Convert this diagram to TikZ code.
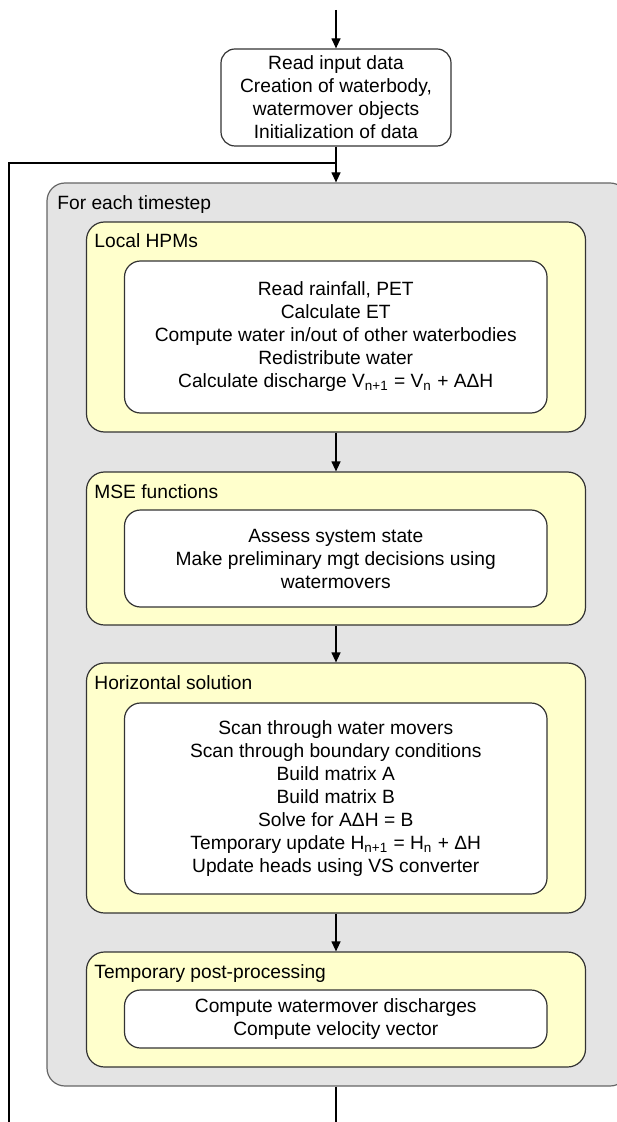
\documentclass[tikz,border=0pt]{standalone}
\usepackage{fontspec}
\setmainfont{Liberation Sans}
\usetikzlibrary{arrows.meta}
\definecolor{loopfill}{HTML}{E4E4E4}
\definecolor{stagefill}{HTML}{FFFFCC}
\definecolor{edge}{HTML}{333333}
\begin{document}
\begin{tikzpicture}[x=0.5pt,y=-0.5pt,
  every node/.style={font=\fontsize{9.6}{11.5}\selectfont},
  outer/.style={draw=black!60, fill=loopfill, rounded corners=9pt, line width=0.6pt, inner sep=0pt},
  stage/.style={draw=edge, fill=stagefill, rounded corners=9pt, line width=0.6pt, inner sep=0pt, minimum width=249.5pt},
  task/.style={draw=edge, fill=white, rounded corners=8pt, line width=0.6pt, inner sep=0pt, align=center, minimum width=211.25pt},
  caption/.style={anchor=base west, inner sep=0pt},
  flow/.style={line width=0.6pt, -{Triangle[length=5pt,width=4.5pt]}},
  link/.style={line width=0.6pt}]
\useasboundingbox (0,0) rectangle (616,1122);

% entry point and initialisation
\coordinate (start) at (336,10);
\node[task, minimum width=115pt, minimum height=48.5pt, rounded corners=7pt] (init) at (336,97.5)
  {Read input data\\Creation of waterbody,\\watermover objects\\Initialization of data};

% time loop container
\node[outer, minimum width=290.5pt, minimum height=451.5pt] (loop) at (337.5,634.5) {};
\node[caption] (looplbl) at (57,210) {For each timestep};

% stages inside the loop
\node[stage, minimum height=105pt]  (hpm) at (336,327) {};
\node[stage, minimum height=76.5pt] (mse) at (336,548.5) {};
\node[stage, minimum height=125pt]  (hor) at (336,788) {};
\node[stage, minimum height=57.5pt] (tpp) at (336,1009.5) {};

\node[caption] (hpmlbl) at (94,248) {Local HPMs};
\node[caption] (mselbl) at (94,498) {MSE functions};
\node[caption] (horlbl) at (94,689) {Horizontal solution};
\node[caption] (tpplbl) at (94,978) {Temporary post-processing};

\node[task, minimum height=76pt] (hpmtask) at (335.75,337)
  {Read rainfall, PET\\Calculate ET\\Compute water in/out of other waterbodies\\Redistribute water\\Calculate discharge V\textsubscript{n+1} = V\textsubscript{n} + AΔH};
\node[task, minimum height=48.5pt] (msetask) at (335.75,558.5)
  {Assess system state\\Make preliminary mgt decisions using\\watermovers};
\node[task, minimum height=95.5pt] (hortask) at (335.75,798.5)
  {Scan through water movers\\Scan through boundary conditions\\Build matrix A\\Build matrix B\\Solve for AΔH = B\\Temporary update H\textsubscript{n+1} = H\textsubscript{n} + ΔH\\Update heads using VS converter};
\node[task, minimum height=29pt] (tpptask) at (335.75,1019)
  {Compute watermover discharges\\Compute velocity vector};

% connectors
\coordinate (loopback) at (9,1122);
\coordinate (loopjoin) at (336,163);
\coordinate (finish) at (336,1122);

\draw[flow] (start) -- (init);
\draw[flow] (init.south) -- (init.south |- loop.north);
\draw[link] (loopback) |- (loopjoin);
\draw[flow] (hpm) -- (mse);
\draw[flow] (mse) -- (hor);
\draw[flow] (hor) -- (tpp);
\draw[link] (tpp.south |- loop.south) -- (finish);
\end{tikzpicture}
\end{document}
